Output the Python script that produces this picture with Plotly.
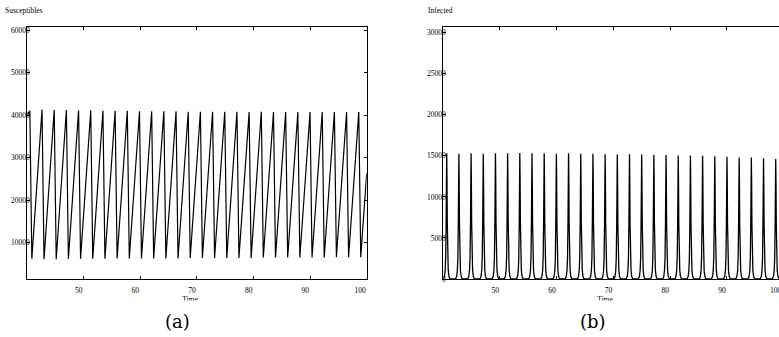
import plotly.graph_objects as go

W, H = 779, 337

# ---------------- data ----------------
# Infected: times and heights of the epidemic spikes
i_peak_time = [40.60, 42.75, 44.90, 47.05, 49.20, 51.35, 53.50, 55.65, 57.80, 59.95,
               62.10, 64.25, 66.40, 68.55, 70.70, 72.85, 75.00, 77.15, 79.30, 81.45,
               83.60, 85.75, 87.90, 90.05, 92.20, 94.35, 96.50, 98.65]
i_peak_value = [15300, 15250, 15300, 15250, 15300, 15300, 15350, 15300, 15300, 15250,
                15300, 15250, 15250, 15200, 15150, 15200, 15150, 15100, 15100, 15050,
                15050, 15000, 14950, 14900, 14800, 14800, 14700, 14600]
# shape of one spike (time offset from the peak, fraction of the peak height)
spike_offset = [-0.6, -0.4, -0.27, -0.18, -0.1, -0.05, 0.0, 0.05, 0.1, 0.18, 0.27, 0.4, 0.6]
spike_fraction = [0.0, 0.02, 0.07, 0.17, 0.45, 0.8, 1.0, 0.8, 0.45, 0.17, 0.07, 0.02, 0.0]

# Susceptibles: saw-tooth vertices
s_start_time, s_start_value = 40.0, 39800
s_peak_time = [40.55, 42.70, 44.85, 47.00, 49.15, 51.30, 53.45, 55.60, 57.75, 59.90,
               62.05, 64.20, 66.35, 68.50, 70.65, 72.80, 74.95, 77.10, 79.25, 81.40,
               83.55, 85.70, 87.85, 90.00, 92.15, 94.30, 96.45, 98.60]
s_peak_value = [41000, 41300, 41200, 41200, 41100, 41100, 41000, 41000, 41000, 40900,
                40900, 40900, 40900, 40800, 40800, 40800, 40800, 40800, 40700, 40800,
                40700, 40700, 40700, 40700, 40700, 40700, 40700, 40700]
s_trough_time = [40.90, 43.05, 45.20, 47.35, 49.50, 51.65, 53.80, 55.95, 58.10, 60.25,
                 62.40, 64.55, 66.70, 68.85, 71.00, 73.15, 75.30, 77.45, 79.60, 81.75,
                 83.90, 86.05, 88.20, 90.35, 92.50, 94.65, 96.80, 98.95]
s_trough_value = [6200, 6100, 6100, 6200, 6200, 6200, 6200, 6300, 6300, 6300,
                  6300, 6300, 6300, 6400, 6400, 6400, 6400, 6400, 6400, 6500,
                  6500, 6500, 6500, 6500, 6500, 6600, 6600, 6600]
s_end_time, s_end_value = 100.0, 26400

x_ticks_a = [50, 60, 70, 80, 90, 100]
x_ticks_b = [50, 60, 70, 80, 90]
y_ticks_a = [10000, 20000, 30000, 40000, 50000, 60000]
y_ticks_b = [0, 5000, 10000, 15000, 20000, 25000, 30000]

# ---------------- build series ----------------
s_t = [s_start_time]
s_v = [s_start_value]
for pt, pv, tt, tv in zip(s_peak_time, s_peak_value, s_trough_time, s_trough_value):
    s_t += [pt, tt]
    s_v += [pv, tv]
s_t.append(s_end_time)
s_v.append(s_end_value)

i_t, i_v = [], []
for pt, pv in zip(i_peak_time, i_peak_value):
    for o, f in zip(spike_offset, spike_fraction):
        i_t.append(pt + o)
        i_v.append(pv * f)
i_t.append(100.0)
i_v.append(0.0)

SERIF = "Liberation Serif"
TICKFONT = dict(family=SERIF, size=7.5, color="black")


def px_x(p):
    return p / W


def px_y(p):
    return 1 - p / H


fig = go.Figure()
fig.add_trace(go.Scatter(x=s_t, y=s_v, mode="lines", line=dict(color="black", width=1.2),
                         xaxis="x", yaxis="y", hoverinfo="skip"))
fig.add_trace(go.Scatter(x=i_t, y=i_v, mode="lines", line=dict(color="black", width=1.3),
                         xaxis="x2", yaxis="y2", hoverinfo="skip"))
# "Time" labels, clipped at their lower half like the reference
fig.add_trace(go.Scatter(x=[190, 605], y=[300.5, 300.5], mode="text", text=["Time", "Time"],
                         textfont=dict(family=SERIF, size=7.5, color="black"),
                         xaxis="x3", yaxis="y3", hoverinfo="skip", cliponaxis=True))

ydom = [px_y(279), px_y(27.3)]
common_axis = dict(showline=True, linecolor="black", linewidth=1, ticks="inside", ticklen=3,
                   tickcolor="black", tickwidth=1, showgrid=False, zeroline=False,
                   tickfont=TICKFONT, automargin=False, fixedrange=True,
                   exponentformat="none", separatethousands=False, tickformat="d")

fig.update_layout(
    width=W, height=H, autosize=False,
    margin=dict(l=0, r=0, t=0, b=0, pad=0),
    paper_bgcolor="white", plot_bgcolor="white", showlegend=False,
    xaxis=dict(domain=[px_x(27.3), px_x(366.7)], range=[40.1, 100], tickvals=x_ticks_a,
               mirror="ticks", anchor="y", ticklabelposition="outside left",
               ticklabelstandoff=4, **common_axis),
    yaxis=dict(domain=ydom, range=[1460, 60640], tickvals=y_ticks_a, mirror="ticks",
               anchor="x", ticklabelstandoff=-5, **common_axis),
    xaxis2=dict(domain=[px_x(443.3), 1], range=[40, 99.23], tickvals=x_ticks_b,
                mirror="ticks", anchor="y2", ticklabelposition="outside left",
                ticklabelstandoff=4, **common_axis),
    yaxis2=dict(domain=ydom, range=[0, 30650], tickvals=y_ticks_b, mirror=False,
                anchor="x2", ticklabelstandoff=-5, **common_axis),
    xaxis3=dict(domain=[0, 1], range=[0, W], visible=False, anchor="y3", fixedrange=True),
    yaxis3=dict(domain=[px_y(300.5), px_y(288)], range=[300.5, 288], visible=False,
                anchor="x3", fixedrange=True),
    annotations=[
        dict(text="Susceptibles", x=px_x(2.7), y=px_y(10), xref="paper", yref="paper",
             xanchor="left", yanchor="middle", showarrow=False,
             font=dict(family=SERIF, size=7.5, color="black")),
        dict(text="Infected", x=px_x(425.7), y=px_y(10), xref="paper", yref="paper",
             xanchor="left", yanchor="middle", showarrow=False,
             font=dict(family=SERIF, size=7.5, color="black")),
        dict(text="100", x=px_x(784), y=px_y(290), xref="paper", yref="paper",
             xanchor="right", yanchor="middle", showarrow=False,
             font=TICKFONT),
        dict(text="(a)", x=px_x(177), y=px_y(321), xref="paper", yref="paper",
             xanchor="center", yanchor="middle", showarrow=False,
             font=dict(family="DejaVu Serif", size=18, color="black")),
        dict(text="(b)", x=px_x(593), y=px_y(321), xref="paper", yref="paper",
             xanchor="center", yanchor="middle", showarrow=False,
             font=dict(family="DejaVu Serif", size=18, color="black")),
    ],
)

fig.write_html("out.html", config=dict(displayModeBar=False, staticPlot=True),
               post_script="document.body.style.margin='0';document.body.style.overflow='hidden';")
